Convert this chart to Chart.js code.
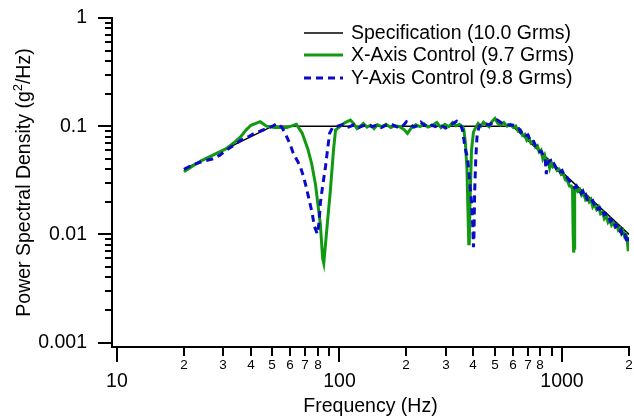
<!DOCTYPE html>
<html>

<head>
    <script src="https://cdn.jsdelivr.net/npm/chart.js"></script>
    <style>
        body { margin: 0; background: #fff; }
        #wrap { width: 634px; height: 417px; position: relative; }
    </style>
</head>

<body>
    <div id="wrap">
        <canvas id="chartId"></canvas>
    </div>
    <script>
        // specification profile
        const specFreq = [20, 50, 600, 2000];
        const specPsd = [0.04, 0.1, 0.1, 0.01];

        // X-axis control (green)
        const xFreq = [
            20, 22, 24, 27, 31, 34, 36, 38, 40, 44, 47, 51, 58, 64, 68, 72, 75, 78, 80, 82, 84, 85, 88, 91, 94, 96,
            101, 106, 112, 116, 120, 124, 128, 133, 138, 143, 148, 155, 162, 170, 178, 186, 194, 202, 210, 220, 230, 240, 250,
            262, 274, 286, 298, 310, 322, 334, 346, 356, 362, 368, 374, 378, 381, 383, 386, 392, 400, 410, 420, 432, 444, 456,
            470, 484, 500, 515, 530, 548, 566, 585,
            605, 620, 635, 650, 665, 680, 695, 710, 725, 740,
            760, 775, 790, 805, 820, 835, 850, 865, 880, 895,
            910, 930, 950, 970, 990, 1010, 1035, 1060, 1080, 1100,
            1115, 1122, 1128, 1133, 1140, 1160, 1180, 1200, 1225, 1250,
            1275, 1300, 1325, 1350, 1375, 1400, 1430, 1460, 1490, 1520,
            1550, 1580, 1610, 1640, 1670, 1700, 1730, 1760, 1790, 1820,
            1850, 1880, 1910, 1940, 1965, 1985, 2000];
        const xPsd = [
            0.038, 0.043, 0.048, 0.054, 0.062, 0.072, 0.080, 0.092, 0.102, 0.110, 0.100, 0.097, 0.097, 0.104, 0.086, 0.062,
            0.045, 0.029, 0.019, 0.0125, 0.0060, 0.0054, 0.012, 0.0255, 0.060, 0.092,
            0.100, 0.108, 0.114, 0.105, 0.095, 0.100, 0.106, 0.098, 0.102, 0.095, 0.103, 0.099, 0.104, 0.097, 0.101, 0.099,
            0.094, 0.086, 0.096, 0.103, 0.099, 0.105, 0.098,
            0.102, 0.108, 0.097, 0.104, 0.099, 0.108, 0.101, 0.104, 0.100, 0.094, 0.070, 0.040, 0.016, 0.0082, 0.0082, 0.020,
            0.060, 0.088, 0.098, 0.106, 0.100, 0.109, 0.104,
            0.099, 0.110, 0.118, 0.106, 0.102, 0.108, 0.100, 0.104,
            0.097, 0.100, 0.090, 0.092, 0.082, 0.084, 0.074, 0.078, 0.070, 0.072,
            0.064, 0.066, 0.058, 0.060, 0.050, 0.054, 0.046, 0.048, 0.041, 0.046,
            0.042, 0.043, 0.039, 0.040, 0.036, 0.037, 0.032, 0.031, 0.028, 0.028,
            0.026, 0.010, 0.0068, 0.0075, 0.024, 0.027, 0.025, 0.026, 0.023, 0.024,
            0.021, 0.022, 0.020, 0.021, 0.018, 0.019, 0.017, 0.018, 0.0155, 0.016,
            0.0140, 0.0148, 0.0130, 0.0138, 0.0122, 0.0128, 0.0118, 0.0122, 0.0110, 0.0114,
            0.0102, 0.0108, 0.0096, 0.0100, 0.0088, 0.0070, 0.0086];

        // Y-axis control (blue, dashed)
        const yFreq = [
            20, 22, 24, 27, 29, 31, 34, 36, 39, 41, 44, 47, 50, 52.5, 55, 57, 60, 62, 65, 67, 69, 71, 73, 75.5, 77,
            79.5, 81, 82, 84, 86.5, 88.5, 90.3, 93, 98, 104, 110, 116, 122, 128, 134, 140, 146, 154, 162, 170, 178, 186, 194,
            200, 208, 216, 224, 232, 240, 250, 260, 270, 280, 290, 300, 312, 324, 336, 346, 352, 358, 364, 370, 376, 385, 392,
            397, 400, 402, 405, 410, 415, 424, 444, 470, 490, 512, 540, 575,
            610, 625, 640, 655, 670, 690, 703, 720, 740, 760,
            778, 795, 810, 825, 840, 850, 858, 870, 889, 900,
            920, 940, 960, 980, 1000, 1020, 1040, 1070, 1097, 1120,
            1140, 1160, 1177, 1200, 1220, 1240, 1260, 1280, 1300, 1325,
            1348, 1375, 1400, 1425, 1450, 1475, 1500, 1525, 1547, 1575,
            1600, 1625, 1650, 1675, 1700, 1720, 1740, 1760, 1780, 1800,
            1820, 1840, 1860, 1880, 1900, 1920, 1940, 1960, 1975, 2000];
        const yPsd = [
            0.040, 0.044, 0.047, 0.050, 0.054, 0.060, 0.068, 0.074, 0.080, 0.085, 0.090, 0.095, 0.100, 0.106, 0.098, 0.086,
            0.068, 0.056, 0.047, 0.041, 0.034, 0.027, 0.021, 0.0155, 0.012,
            0.0101, 0.013, 0.0193, 0.028, 0.042, 0.062, 0.086, 0.097, 0.100, 0.104, 0.098, 0.103, 0.097, 0.101, 0.104, 0.099,
            0.102, 0.097, 0.102, 0.105, 0.100, 0.096, 0.102,
            0.110, 0.104, 0.098, 0.101, 0.109, 0.103, 0.097, 0.102, 0.099, 0.104, 0.100, 0.096, 0.101, 0.106, 0.111, 0.102,
            0.100, 0.090, 0.070, 0.058, 0.052, 0.030, 0.020,
            0.012, 0.0076, 0.0095, 0.025, 0.052, 0.080, 0.100, 0.106, 0.103, 0.108, 0.114, 0.106, 0.103,
            0.102, 0.096, 0.095, 0.088, 0.090, 0.082, 0.083, 0.074, 0.075, 0.066,
            0.064, 0.058, 0.058, 0.052, 0.050, 0.036, 0.044, 0.047, 0.048, 0.044,
            0.045, 0.041, 0.042, 0.038, 0.039, 0.035, 0.035, 0.032, 0.030, 0.029,
            0.027, 0.028, 0.026, 0.026, 0.024, 0.025, 0.022, 0.023, 0.021, 0.0215,
            0.020, 0.0205, 0.0185, 0.019, 0.0172, 0.0176, 0.016, 0.0165, 0.0152, 0.0155,
            0.0142, 0.0145, 0.0132, 0.0135, 0.0124, 0.0127, 0.0118, 0.0121, 0.0114, 0.0116,
            0.0108, 0.0110, 0.0102, 0.0104, 0.0096, 0.0098, 0.0090, 0.0088, 0.0082, 0.0094];

        const seriesNames = ['Specification (10.0 Grms)', 'X-Axis Control (9.7 Grms)', 'Y-Axis Control (9.8 Grms)'];
        const yMajor = [1, 0.1, 0.01, 0.001];
        const yMajorLabels = ['1', '0.1', '0.01', '0.001'];
        const xMajor = [10, 100, 1000];
        const xMajorLabels = ['10', '100', '1000'];
        const xMinorLabeled = [2, 3, 4, 5, 6, 7, 8];

        const FONT = '"Liberation Sans", Arial, sans-serif';
        const BIG = '19.5px ' + FONT;

        function pts(fs, vs) {
            return fs.map((f, i) => ({ x: f, y: vs[i] }));
        }

        // draws tick marks, tick labels, titles and the legend
        const axisDecor = {
            id: 'axisDecor',
            afterDraw(chart) {
                const ctx = chart.ctx;
                const xs = chart.scales.x, ys = chart.scales.y;
                const area = chart.chartArea;
                ctx.save();
                ctx.strokeStyle = '#000';
                ctx.fillStyle = '#000';
                ctx.lineWidth = 2;

                // y ticks
                for (let d = 0.001; d <= 1.0001; d *= 10) {
                    for (let m = 1; m <= 9; m++) {
                        const v = d * m;
                        if (v > 1.0001) break;
                        const py = Math.round(ys.getPixelForValue(v));
                        const len = m === 1 ? 14 : 7;
                        ctx.beginPath();
                        ctx.moveTo(area.left, py);
                        ctx.lineTo(area.left - len, py);
                        ctx.stroke();
                    }
                }
                ctx.font = BIG;
                ctx.textAlign = 'right';
                ctx.textBaseline = 'middle';
                yMajor.forEach((v, i) => {
                    ctx.fillText(yMajorLabels[i], 87, ys.getPixelForValue(v));
                });

                // x ticks
                ctx.textAlign = 'center';
                ctx.textBaseline = 'middle';
                for (let d = 10; d <= 1000; d *= 10) {
                    for (let m = 1; m <= 9; m++) {
                        const v = d * m;
                        if (v > 2000) break;
                        const px = Math.round(xs.getPixelForValue(v));
                        const len = m === 1 ? 15 : 9;
                        ctx.beginPath();
                        ctx.moveTo(px, area.bottom);
                        ctx.lineTo(px, area.bottom + len);
                        ctx.stroke();
                        if (xMinorLabeled.includes(m)) {
                            ctx.font = '13.5px ' + FONT;
                            ctx.fillText(String(m), px, area.bottom + 18);
                        }
                    }
                }
                ctx.font = BIG;
                xMajor.forEach((v, i) => {
                    ctx.fillText(xMajorLabels[i], xs.getPixelForValue(v), area.bottom + 35);
                });

                // x title
                ctx.fillText('Frequency (Hz)', (area.left + area.right) / 2, 407);

                // y title with superscript
                ctx.save();
                ctx.translate(25, (area.top + area.bottom) / 2);
                ctx.rotate(-Math.PI / 2);
                const t1 = 'Power Spectral Density (g', t2 = '2', t3 = '/Hz)';
                ctx.font = BIG;
                const w1 = ctx.measureText(t1).width, w3 = ctx.measureText(t3).width;
                ctx.font = '13px ' + FONT;
                const w2 = ctx.measureText(t2).width;
                let x0 = -(w1 + w2 + w3) / 2;
                ctx.textAlign = 'left';
                ctx.font = BIG;
                ctx.fillText(t1, x0, 0);
                ctx.font = '13px ' + FONT;
                ctx.fillText(t2, x0 + w1, -7);
                ctx.font = BIG;
                ctx.fillText(t3, x0 + w1 + w2, 0);
                ctx.restore();

                // legend
                const rows = [33, 55, 78];
                ctx.textAlign = 'left';
                ctx.textBaseline = 'middle';
                chart.data.datasets.forEach((ds, i) => {
                    const y = rows[i];
                    ctx.save();
                    ctx.strokeStyle = ds.borderColor;
                    ctx.lineWidth = ds.borderWidth;
                    ctx.setLineDash(ds.borderDash || []);
                    ctx.beginPath();
                    ctx.moveTo(304, y);
                    ctx.lineTo(343, y);
                    ctx.stroke();
                    ctx.restore();
                    ctx.font = BIG;
                    ctx.fillStyle = '#000';
                    ctx.fillText(ds.label, 351, y + 1);
                });
                ctx.restore();
            }
        };

        new Chart(document.getElementById('chartId'), {
            type: 'line',
            data: {
                datasets: [{
                    label: seriesNames[0],
                    data: pts(specFreq, specPsd),
                    borderColor: '#000000',
                    borderWidth: 1.5,
                    order: 3
                }, {
                    label: seriesNames[1],
                    data: pts(xFreq, xPsd),
                    borderColor: '#119a11',
                    borderWidth: 3,
                    order: 2
                }, {
                    label: seriesNames[2],
                    data: pts(yFreq, yPsd),
                    borderColor: '#0a0ac8',
                    borderWidth: 3,
                    borderDash: [7, 5],
                    order: 1
                }]
            },
            options: {
                responsive: true,
                maintainAspectRatio: false,
                animation: false,
                layout: { padding: { top: 18, right: 5, left: 0, bottom: 0 } },
                elements: {
                    point: { radius: 0 },
                    line: { tension: 0, fill: false }
                },
                plugins: {
                    legend: { display: false },
                    tooltip: { enabled: false }
                },
                scales: {
                    x: {
                        type: 'logarithmic',
                        min: 9.5,
                        max: 2000,
                        grid: { display: false },
                        ticks: { display: false },
                        border: { display: true, color: '#000', width: 2 },
                        afterFit: s => { s.height = 70; }
                    },
                    y: {
                        type: 'logarithmic',
                        min: 0.00091,
                        max: 1,
                        grid: { display: false },
                        ticks: { display: false },
                        border: { display: true, color: '#000', width: 2 },
                        afterFit: s => { s.width = 112; }
                    }
                }
            },
            plugins: [axisDecor]
        });
    </script>
</body>

</html>
